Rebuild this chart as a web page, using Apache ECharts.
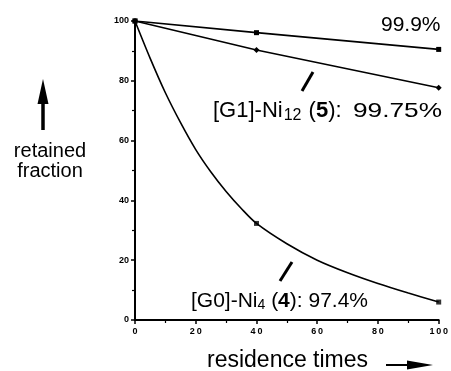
<!DOCTYPE html>
<html>
<head>
<meta charset="utf-8">
<script src="https://cdn.jsdelivr.net/npm/echarts@6/dist/echarts.min.js"></script>
<style>
  html, body { margin: 0; padding: 0; background: #fff; }
  #chart { width: 451px; height: 371px; }
</style>
</head>
<body>
<div id="chart"></div>
<script>
// residence times where markers are drawn
var markTimes = [0, 40, 100];
// 99.9 % series
var topValues = [100, 96.1, 90.5];
// [G1]-Ni12 (5): 99.75 %
var g1Values = [100, 90.3, 77.7];
// [G0]-Ni4 (4): 97.4 % markers
var g0Values = [100, 32.3, 6];
// [G0] fitted curve
var g0CurveTimes = [0, 5, 10, 15, 20, 25, 30, 35, 40, 50, 60, 70, 80, 90, 100];
var g0CurveValues = [100, 87.5, 76, 66, 57, 49.5, 43, 37.3, 32.3, 25.5, 20, 15.8, 12.2, 9, 6];
// axis ticks
var xTicks = [0, 20, 40, 60, 80, 100];
var yTicks = [0, 20, 40, 60, 80, 100];

function pairs(xs, ys) {
  return xs.map(function (x, i) { return [x, ys[i]]; });
}

var font = "Liberation Sans, Arial, Helvetica, sans-serif";

var myChart = echarts.init(document.getElementById("chart"), null, { renderer: "canvas" });
var options = {
  animation: false,
  grid: { left: 135, right: 10, top: 21, bottom: 51 },
  xAxis: {
    type: "value",
    min: xTicks[0],
    max: xTicks[xTicks.length - 1],
    interval: 20,
    axisLine: { lineStyle: { color: "#000", width: 2 } },
    axisTick: { inside: false, length: 4, lineStyle: { color: "#000", width: 1.5 } },
    minorTick: { show: true, splitNumber: 2, length: 3, lineStyle: { color: "#000", width: 1.2 } },
    axisLabel: { color: "#000", fontSize: 9, fontWeight: "bold", fontFamily: font, margin: 7,
      formatter: function (v) { return String(v).split("").join("\u2009"); } },
    splitLine: { show: false }
  },
  yAxis: {
    type: "value",
    min: yTicks[0],
    max: yTicks[yTicks.length - 1],
    interval: 20,
    axisLine: { show: true, lineStyle: { color: "#000", width: 2 } },
    axisTick: { show: true, inside: false, length: 4, lineStyle: { color: "#000", width: 1.5 } },
    minorTick: { show: true, splitNumber: 2, length: 3, lineStyle: { color: "#000", width: 1.2 } },
    axisLabel: { color: "#000", fontSize: 9, fontWeight: "bold", fontFamily: font, margin: 6 },
    splitLine: { show: false }
  },
  series: [
    {
      name: "99.9%",
      type: "line",
      data: pairs(markTimes, topValues),
      symbol: "rect",
      symbolSize: 5,
      itemStyle: { color: "#000" },
      lineStyle: { color: "#000", width: 1.6 }
    },
    {
      name: "[G1]-Ni12",
      type: "line",
      data: pairs(markTimes, g1Values),
      symbol: "diamond",
      symbolSize: 6,
      itemStyle: { color: "#000" },
      lineStyle: { color: "#000", width: 1.6 }
    },
    {
      name: "[G0]-Ni4 curve",
      type: "line",
      data: pairs(g0CurveTimes, g0CurveValues),
      smooth: 0.3,
      showSymbol: false,
      symbol: "none",
      lineStyle: { color: "#000", width: 1.6 }
    },
    {
      name: "[G0]-Ni4",
      type: "scatter",
      data: pairs(markTimes, g0Values),
      symbol: "rect",
      symbolSize: 5,
      itemStyle: { color: "#000" }
    }
  ],
  graphic: [
    // up arrow
    { type: "line", shape: { x1: 43, y1: 130, x2: 43, y2: 96 }, style: { stroke: "#000", lineWidth: 3.5 } },
    { type: "polygon", shape: { points: [[43, 79], [37.5, 104], [48.5, 104]] }, style: { fill: "#000" } },
    { type: "text", style: { x: 50, y: 151, text: "retained", textAlign: "center", textVerticalAlign: "middle",
      fontSize: 20, fontFamily: font, fill: "#000" } },
    { type: "text", style: { x: 50, y: 171, text: "fraction", textAlign: "center", textVerticalAlign: "middle",
      fontSize: 20, fontFamily: font, fill: "#000" } },
    // right arrow
    { type: "line", shape: { x1: 386, y1: 365, x2: 412, y2: 365 }, style: { stroke: "#000", lineWidth: 2 } },
    { type: "polygon", shape: { points: [[433, 365], [407, 360.5], [407, 369.5]] }, style: { fill: "#000" } },
    { type: "text", style: { x: 207, y: 361, text: "residence times", textAlign: "left", textVerticalAlign: "middle",
      fontSize: 23, fontFamily: font, fill: "#000" } },
    // labels
    { type: "text", style: { x: 381, y: 25, text: "99.9%", textAlign: "left", textVerticalAlign: "middle",
      fontSize: 21, fontFamily: font, fill: "#000" } },
    { type: "line", shape: { x1: 313, y1: 72, x2: 302, y2: 91 }, style: { stroke: "#000", lineWidth: 3 } },
    { type: "text", x: 213, y: 111, style: { x: 0, y: 0, text: "[G1]-Ni{sub|12} ({b|5}):", textAlign: "left", textVerticalAlign: "middle",
      fontSize: 22, fontFamily: font, fill: "#000",
      rich: {
        sub: { fontSize: 16, fontFamily: font, fill: "#000", padding: [10, 1, 0, 1] },
        b: { fontSize: 22, fontWeight: "bold", fontFamily: font, fill: "#000" }
      } } },
    { type: "text", x: 442, y: 111, scaleX: 1.25, style: { x: 0, y: 0, text: "99.75%", textAlign: "right", textVerticalAlign: "middle",
      fontSize: 21, fontFamily: font, fill: "#000" } },
    { type: "line", shape: { x1: 292, y1: 262, x2: 280, y2: 281 }, style: { stroke: "#000", lineWidth: 3 } },
    { type: "text", style: { x: 191, y: 301, text: "[G0]-Ni{sub|4} ({b|4}): 97.4%", textAlign: "left", textVerticalAlign: "middle",
      fontSize: 21, fontFamily: font, fill: "#000",
      rich: {
        sub: { fontSize: 14, fontFamily: font, fill: "#000", padding: [9, 0, 0, 0] },
        b: { fontSize: 21, fontWeight: "bold", fontFamily: font, fill: "#000" }
      } } }
  ]
};
myChart.setOption(options);
</script>
</body>
</html>
